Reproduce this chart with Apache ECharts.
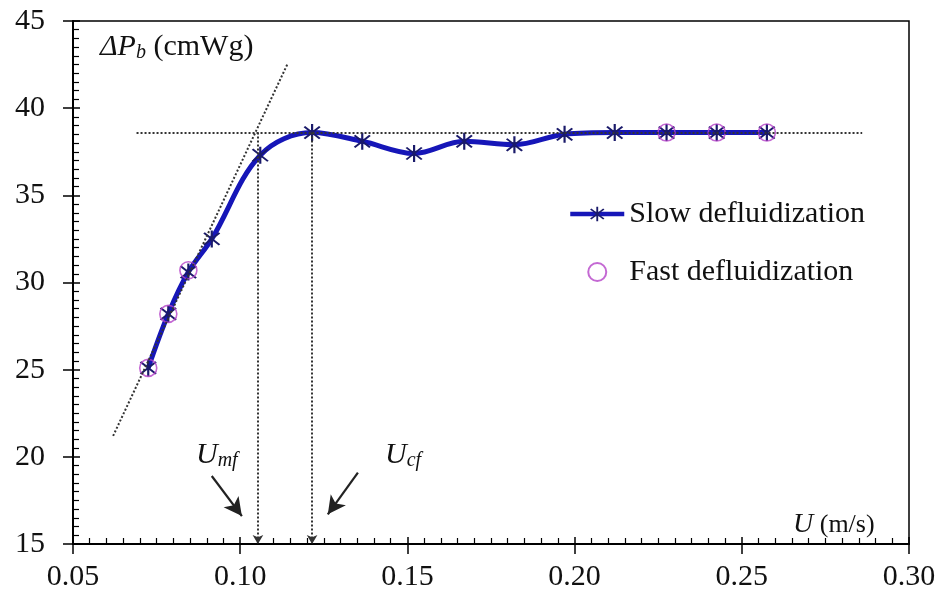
<!DOCTYPE html>
<html>
<head>
<meta charset="utf-8">
<script src="https://cdn.jsdelivr.net/npm/echarts@6/dist/echarts.min.js"></script>
<style>html,body{margin:0;padding:0;background:#fff}#c{width:948px;height:606px}</style>
</head>
<body>
<div id="c"></div>
<script>
// ---- data ----
const uSlow  = [0.0725,0.0785,0.0845,0.0915,0.106,0.1215,0.1365,0.152,0.167,0.182,0.197,0.212,0.2275,0.2425,0.2575];
const dpSlow = [25.1,28.2,30.6,32.5,37.3,38.6,38.1,37.4,38.1,37.9,38.5,38.6,38.6,38.6,38.6];
const uFast  = [0.0725,0.0785,0.0845,0.2275,0.2425,0.2575];
const dpFast = [25.1,28.2,30.7,38.6,38.6,38.6];
const xTicks = [0.05,0.10,0.15,0.20,0.25,0.30];
const yTicks = [15,20,25,30,35,40,45];
const plateau = 38.6;
const uMf = 0.1053, uCf = 0.1215;
const tangent = [[0.062,21.2],[0.1143,42.6]];
const plateauRange = [0.069,0.286];
const arrowMf = [[0.0915,18.9],[0.1005,16.6]];
const arrowCf = [[0.1352,19.1],[0.1262,16.7]];

const serif = 'Liberation Serif';
const star = 'path://M9,0 L11,0 L11,20 L9,20 Z M3.64,2.22 L17.78,16.36 L16.36,17.78 L2.22,3.64 Z M17.78,3.64 L3.64,17.78 L2.22,16.36 L16.36,2.22 Z';

const chart = echarts.init(document.getElementById('c'), null, {renderer:'canvas'});
const xMin = xTicks[0], xMax = xTicks[xTicks.length-1];
const yMin = yTicks[0], yMax = yTicks[yTicks.length-1];

const dotted = {color:'#333', width:2, type:[2,2]};
const solidArrow = {color:'#222', width:2.2, type:'solid'};
chart.setOption({
  animation:false,
  backgroundColor:'#fff',
  grid:{left:73,right:39,top:21,bottom:62,show:true,borderColor:'#000',borderWidth:1.5,backgroundColor:'transparent'},
  xAxis:[{
    type:'value',min:xMin,max:xMax,interval:0.05,
    axisLine:{lineStyle:{color:'#000',width:2}},
    axisTick:{show:true,length:10,lineStyle:{color:'#000',width:1.5}},
    axisLabel:{fontFamily:serif,fontSize:30,color:'#111',margin:18,formatter:v=>v.toFixed(2)},
    splitLine:{show:false}
  },{
    type:'value',min:xMin,max:xMax,interval:0.05,position:'bottom',
    axisLine:{show:false},
    axisTick:{show:true,inside:true,length:7,lineStyle:{color:'#000',width:1.5}},
    minorTick:{show:true,splitNumber:10,length:6,lineStyle:{color:'#000',width:1.2}},
    axisLabel:{show:false},splitLine:{show:false}
  }],
  yAxis:[{
    type:'value',min:yMin,max:yMax,interval:5,
    axisLine:{lineStyle:{color:'#000',width:2}},
    axisTick:{show:true,length:10,lineStyle:{color:'#000',width:1.5}},
    axisLabel:{fontFamily:serif,fontSize:30,color:'#111',margin:28},
    splitLine:{show:false}
  },{
    type:'value',min:yMin,max:yMax,interval:5,position:'left',
    axisLine:{show:false},
    axisTick:{show:true,inside:true,length:7,lineStyle:{color:'#000',width:1.5}},
    minorTick:{show:true,splitNumber:10,length:6,lineStyle:{color:'#000',width:1.2}},
    axisLabel:{show:false},splitLine:{show:false}
  }],
  legend:{
    orient:'vertical',left:563,top:194,itemGap:28,itemWidth:54,itemHeight:18,
    textStyle:{fontFamily:serif,fontSize:30,color:'#111',padding:[0,0,0,0]},
    data:[
      {name:'Slow defluidization',lineStyle:{width:4.5,color:'#1616b8'}},
      {name:'Fast defluidization'}
    ]
  },
  series:[
    {
      name:'helpers',type:'line',data:[],silent:true,
      markLine:{
        silent:true,symbol:['none','none'],label:{show:false},
        lineStyle:dotted,
        data:[
          [{coord:tangent[0]},{coord:tangent[1]}],
          [{coord:[plateauRange[0],plateau]},{coord:[plateauRange[1],plateau]}],
          [{coord:[uMf,plateau],symbol:'none'},{coord:[uMf,yMin],symbol:'arrow',symbolSize:[8,9]}],
          [{coord:[uCf,plateau],symbol:'none'},{coord:[uCf,yMin],symbol:'arrow',symbolSize:[8,9]}],
          [{coord:arrowMf[0],symbol:'none',lineStyle:solidArrow},{coord:arrowMf[1],symbol:'arrow',symbolSize:[14,18],lineStyle:solidArrow}],
          [{coord:arrowCf[0],symbol:'none',lineStyle:solidArrow},{coord:arrowCf[1],symbol:'arrow',symbolSize:[14,18],lineStyle:solidArrow}]
        ]
      }
    },
    {
      name:'Slow defluidization',type:'line',smooth:0.35,
      data:uSlow.map((u,i)=>[u,dpSlow[i]]),
      lineStyle:{color:'#1616b8',width:5},
      itemStyle:{color:'#1a1a6a'},
      symbol:star,symbolSize:17,showSymbol:true,z:3
    },
    {
      name:'Fast defluidization',type:'scatter',
      data:uFast.map((u,i)=>[u,dpFast[i]]),
      symbol:'circle',symbolSize:17,
      itemStyle:{color:'rgba(0,0,0,0)',borderColor:'#b544c8',borderWidth:1.6},
      z:4
    }
  ],
  graphic:[
    {type:'text',left:100,top:32,style:{
      text:'{i|ΔP}{s|b}{n| (cmWg)}',
      rich:{
        i:{fontFamily:serif,fontStyle:'italic',fontSize:30,fill:'#111'},
        s:{fontFamily:serif,fontStyle:'italic',fontSize:20,fill:'#111',padding:[12,0,0,0]},
        n:{fontFamily:serif,fontSize:30,fill:'#111'}
      }}},
    {type:'text',left:196,top:440,style:{
      text:'{i|U}{s|mf}',
      rich:{
        i:{fontFamily:serif,fontStyle:'italic',fontSize:30,fill:'#111'},
        s:{fontFamily:serif,fontStyle:'italic',fontSize:20,fill:'#111',padding:[12,0,0,0]}
      }}},
    {type:'text',left:385,top:440,style:{
      text:'{i|U}{s|cf}',
      rich:{
        i:{fontFamily:serif,fontStyle:'italic',fontSize:30,fill:'#111'},
        s:{fontFamily:serif,fontStyle:'italic',fontSize:20,fill:'#111',padding:[12,0,0,0]}
      }}},
    {type:'text',left:793,top:511,style:{
      text:'{i|U}{n| (m/s)}',
      rich:{
        i:{fontFamily:serif,fontStyle:'italic',fontSize:28,fill:'#111'},
        n:{fontFamily:serif,fontSize:26,fill:'#111'}
      }}}
  ]
});
</script>
</body>
</html>
